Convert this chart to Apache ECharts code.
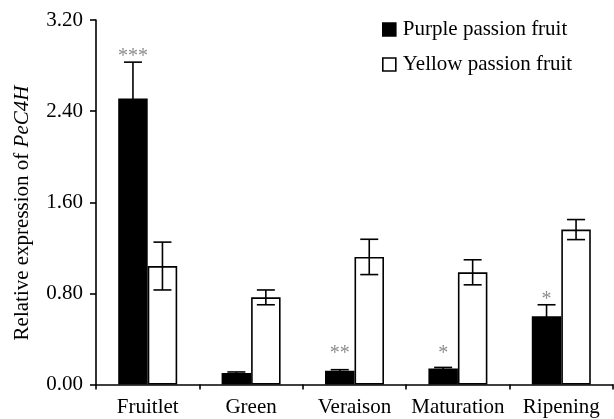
<!DOCTYPE html>
<html><head><meta charset="utf-8">
<script src="https://cdn.jsdelivr.net/npm/echarts@6/dist/echarts.min.js"></script>
<style>html,body{margin:0;padding:0;background:#fff}#c{width:614px;height:419px}</style>
</head><body><div id="c"></div>
<script>
var categories = ['Fruitlet', 'Green', 'Veraison', 'Maturation', 'Ripening'];
var purpleValues = [2.51, 0.10, 0.12, 0.14, 0.60];
var purpleErrors = [0.32, 0.01, 0.01, 0.01, 0.10];
var yellowValues = [1.04, 0.765, 1.12, 0.985, 1.36];
var yellowErrors = [0.21, 0.065, 0.155, 0.11, 0.088];
var purpleStars = ['***', '', '**', '*', '*'];
var yellowStars = ['', '', '', '', ''];
var yTicks = [0, 0.8, 1.6, 2.4, 3.2];

var FONT = '"Liberation Serif", "Times New Roman", serif';
var FS = 21;
var BW = 29.5;
var chart = echarts.init(document.getElementById('c'));

function errSeries(values, errors, seriesIdx) {
  return {
    type: 'custom', z: 10,
    data: values.map(function (v, i) { return [i, v, errors[i]]; }),
    renderItem: function (params, api) {
      var i = api.value(0), v = api.value(1), e = api.value(2);
      var off = seriesIdx === 0 ? -BW / 2 : BW / 2;
      var top = api.coord([i, v + e]);
      var bot = api.coord([i, v - e]);
      var x = top[0] + off;
      var cap = 9;
      var st = { stroke: '#000', lineWidth: 1.6 };
      return { type: 'group', children: [
        { type: 'line', shape: { x1: x, y1: top[1], x2: x, y2: bot[1] }, style: st },
        { type: 'line', shape: { x1: x - cap, y1: top[1], x2: x + cap, y2: top[1] }, style: st },
        { type: 'line', shape: { x1: x - cap, y1: bot[1], x2: x + cap, y2: bot[1] }, style: st }
      ]};
    },
    silent: true
  };
}
function starSeries(values, errors, stars, seriesIdx) {
  return {
    type: 'custom', z: 11,
    data: values.map(function (v, i) { return [i, v, errors[i]]; }),
    renderItem: function (params, api) {
      var i = api.value(0), v = api.value(1), e = api.value(2);
      var s = stars[params.dataIndex];
      if (!s) return null;
      var off = seriesIdx === 0 ? -BW / 2 : BW / 2;
      var p = api.coord([i, Math.max(v + e, 0.23)]);
      return { type: 'text', style: { x: p[0] + off, y: p[1] - 5, text: s, fill: '#8c8c8c',
        font: '20px ' + FONT, align: 'center', verticalAlign: 'middle' } };
    },
    silent: true
  };
}

chart.setOption({
  animation: false,
  backgroundColor: '#fff',
  grid: { left: 96, right: 1, top: 20, bottom: 34.5 },
  legend: {
    orient: 'vertical', left: 377, top: 14, itemGap: 14,
    itemWidth: 13, itemHeight: 13, icon: 'rect', itemStyle: { borderWidth: 1.6 },
    textStyle: { fontFamily: FONT, fontSize: FS, color: '#000', padding: [0, 0, 0, 2] },
    data: ['Purple passion fruit', 'Yellow passion fruit']
  },
  xAxis: {
    type: 'category', data: categories,
    axisLine: { lineStyle: { color: '#000', width: 1.6 } },
    axisTick: { show: true, length: 5, lineStyle: { color: '#000', width: 1.6 } },
    axisLabel: { fontFamily: FONT, fontSize: FS, color: '#000', margin: 12, interval: 0 }
  },
  yAxis: {
    type: 'value', min: 0, max: 3.2, interval: 0.8,
    axisLine: { show: true, lineStyle: { color: '#000', width: 1.6 } },
    axisTick: { show: true, length: 6, lineStyle: { color: '#000', width: 1.6 } },
    splitLine: { show: false },
    axisLabel: { fontFamily: FONT, fontSize: FS, color: '#000', margin: 13,
      formatter: function (v) { return v.toFixed(2); } }
  },
  graphic: [{
    type: 'text', x: 22, y: 213, rotation: Math.PI / 2,
    style: {
      text: '{n|Relative expression of }{i|PeC4H}',
      align: 'center', verticalAlign: 'middle',
      rich: {
        n: { fontFamily: FONT, fontSize: FS, fill: '#000', color: '#000' },
        i: { fontFamily: FONT, fontSize: FS, fill: '#000', color: '#000', fontStyle: 'italic' }
      }
    }
  }],
  series: [
    { name: 'Purple passion fruit', type: 'bar', data: purpleValues, barWidth: BW, barGap: '0%',
      itemStyle: { color: '#000', borderColor: '#000', borderWidth: 1.6 } },
    { name: 'Yellow passion fruit', type: 'bar', data: yellowValues, barWidth: BW, barGap: '0%',
      itemStyle: { color: '#fff', borderColor: '#000', borderWidth: 1.6 } },
    errSeries(purpleValues, purpleErrors, 0),
    errSeries(yellowValues, yellowErrors, 1),
    starSeries(purpleValues, purpleErrors, purpleStars, 0),
    starSeries(yellowValues, yellowErrors, yellowStars, 1)
  ]
});
</script></body></html>
